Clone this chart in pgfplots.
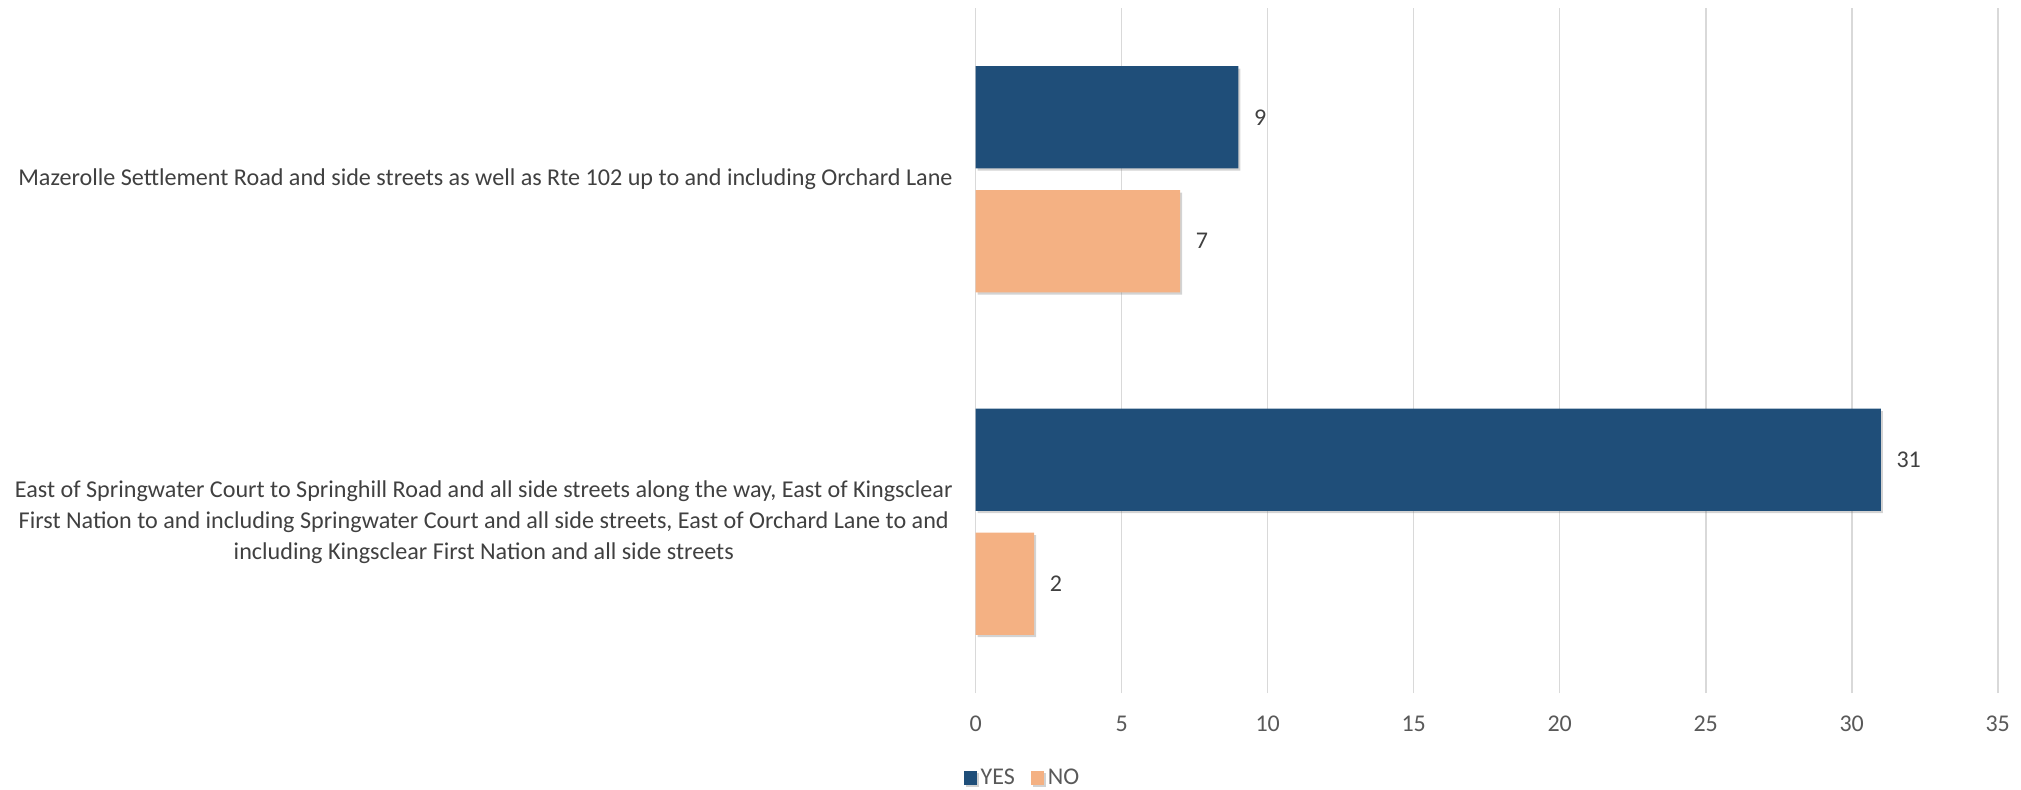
\documentclass[border=0pt]{standalone}
\usepackage{pgfplots}
\pgfplotsset{compat=1.18}
\usepackage{fontspec}
\setmainfont{Carlito}
\usetikzlibrary{shadows}
\definecolor{yesc}{HTML}{1F4E79}
\definecolor{noc}{HTML}{F4B183}
\definecolor{gridc}{HTML}{D9D9D9}
\definecolor{txt}{HTML}{404040}
\definecolor{tick}{HTML}{595959}
\begin{document}
\begin{tikzpicture}
\useasboundingbox (-487.85pt,-48pt) rectangle (522.65pt,346.5pt);
\begin{axis}[
  at={(0,0)}, anchor=south west,
  scale only axis,
  width=511pt, height=342.5pt,
  xbar,
  xmin=0, xmax=35,
  ymin=-0.5, ymax=1.5,
  xtick={0,5,...,35},
  ytick={0,1},
  yticklabels={{East of Springwater Court to Springhill Road and all side streets along the way, East of Kingsclear\\First Nation to and including Springwater Court and all side streets, East of Orchard Lane to and\\including Kingsclear First Nation and all side streets},{Mazerolle Settlement Road and side streets as well as Rte 102 up to and including Orchard Lane}},
  yticklabel style={align=center, font=\fontsize{12.07}{15.5}\selectfont, text=txt, xshift=-8pt},
  xticklabel style={font=\fontsize{12}{14}\selectfont, text=tick, yshift=-8pt},
  /pgf/number format/assume math mode=true,
  axis line style={draw=none},
  major tick length=0pt,
  xmajorgrids, grid style={gridc, line width=0.8pt},
  bar width=0.298,
  nodes near coords,
  every node near coord/.append style={font=\fontsize{12}{14}\selectfont, text=txt, xshift=4.3pt},
  legend style={at={(0.0468,-0.124)}, anchor=center, draw=none, legend columns=2, font=\fontsize{12}{14}\selectfont, text=tick, /tikz/every even column/.append style={column sep=6pt}, inner sep=0pt},
  legend image code/.code={\fill[#1] (0pt,-3.5pt) rectangle (6.5pt,3.5pt);},
]
\addplot[fill=yesc, draw=none, bar shift=0.181, drop shadow={shadow xshift=1pt, shadow yshift=-1.2pt, opacity=0.35}] coordinates {(31,0) (9,1)};
\addplot[fill=noc, draw=none, bar shift=-0.181, drop shadow={shadow xshift=1pt, shadow yshift=-1.2pt, opacity=0.35}] coordinates {(2,0) (7,1)};
\legend{YES,NO}
\end{axis}
\end{tikzpicture}
\end{document}
